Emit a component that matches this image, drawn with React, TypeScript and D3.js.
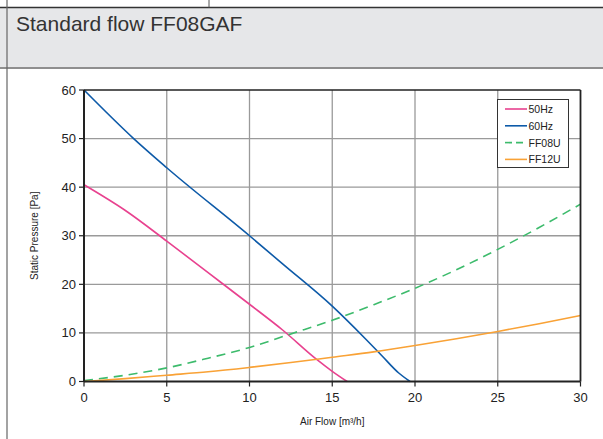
import React from "react";
import * as d3 from "d3";

const xTicks = [0, 5, 10, 15, 20, 25, 30];
const yTicks = [0, 10, 20, 30, 40, 50, 60];

const hz50X = [0, 2.5, 5, 7.5, 10, 12, 14, 15, 15.9];
const hz50Y = [40.5, 35.2, 28.9, 22.4, 15.9, 10.6, 4.7, 2.1, 0];

const hz60X = [0, 3, 5, 10, 12, 15, 17, 18, 19, 19.7];
const hz60Y = [60, 50, 44, 30, 24.2, 15.5, 8.8, 5.3, 1.8, 0];

const ff08uX = [0, 2.5, 5, 7.5, 10, 12.5, 15, 17.5, 20, 22.5, 25, 27.5, 30];
const ff08uY = [0.2, 1.3, 2.8, 4.8, 7.0, 9.8, 12.6, 15.8, 19.2, 23.0, 27.2, 31.7, 36.5];

const ff12uX = [0, 2.5, 5, 7.5, 10, 12.5, 15, 17.5, 20, 22.5, 25, 27.5, 30];
const ff12uY = [0, 0.6, 1.3, 2.0, 2.9, 3.9, 5.0, 6.1, 7.4, 8.8, 10.3, 11.9, 13.6];

const seriesNames = ["50Hz", "60Hz", "FF08U", "FF12U"];
const seriesColors = ["#e8428f", "#0d5aa8", "#3dbb6c", "#f9a236"];

export default function App() {
  const W = 603;
  const H = 439;
  const x = d3.scaleLinear().domain([0, 30]).range([84, 580.5]);
  const y = d3.scaleLinear().domain([0, 60]).range([381.5, 90]);
  const line = d3
    .line<[number, number]>()
    .x((d) => x(d[0]))
    .y((d) => y(d[1]))
    .curve(d3.curveMonotoneX);

  const series: [number[], number[]][] = [
    [hz50X, hz50Y],
    [hz60X, hz60Y],
    [ff08uX, ff08uY],
    [ff12uX, ff12uY],
  ];
  const dashes = [undefined, undefined, "9,6", undefined];

  const font = "'Liberation Sans', Arial, Helvetica, sans-serif";

  return (
    <svg
      width={W}
      height={H}
      style={{ position: "absolute", left: 0, top: 0 }}
      fontFamily={font}
    >
      <rect x={0} y={0} width={W} height={H} fill="#ffffff" />
      {/* header band */}
      <rect x={0} y={8} width={W} height={60} fill="#e6e7e9" />
      <line x1={0} x2={W} y1={7.5} y2={7.5} stroke="#333" strokeWidth={1.3} />
      <line x1={0} x2={W} y1={68} y2={68} stroke="#8f8f8f" strokeWidth={2} />
      <line x1={209} x2={209} y1={0} y2={7.5} stroke="#555" strokeWidth={1} />
      <line x1={7} x2={7} y1={0} y2={H} stroke="#666" strokeWidth={1.2} />
      <text x={16} y={31} fontSize={21} fill="#333">
        Standard flow FF08GAF
      </text>

      {/* grid */}
      {xTicks.slice(1, -1).map((t) => (
        <line key={"gx" + t} x1={x(t)} x2={x(t)} y1={y(60)} y2={y(0)} stroke="#9a9a9a" strokeWidth={1.3} />
      ))}
      {yTicks.slice(1, -1).map((t) => (
        <line key={"gy" + t} x1={x(0)} x2={x(30)} y1={y(t)} y2={y(t)} stroke="#9a9a9a" strokeWidth={1.3} />
      ))}

      {/* series */}
      {series.map(([xs, ys], i) => (
        <path
          key={seriesNames[i]}
          d={line(xs.map((v, j) => [v, ys[j]] as [number, number])) || ""}
          fill="none"
          stroke={seriesColors[i]}
          strokeWidth={1.6}
          strokeDasharray={dashes[i]}
        />
      ))}

      {/* frame */}
      <line x1={x(0)} x2={x(30)} y1={y(60)} y2={y(60)} stroke="#222" strokeWidth={1.5} />
      <line x1={x(30)} x2={x(30)} y1={y(60)} y2={y(0)} stroke="#222" strokeWidth={1.8} />
      <line x1={x(0)} x2={x(0)} y1={y(60)} y2={y(0)} stroke="#222" strokeWidth={2} />
      <line x1={x(0)} x2={x(30)} y1={y(0)} y2={y(0)} stroke="#222" strokeWidth={2} />

      {/* y axis ticks */}
      {yTicks.map((t) => (
        <g key={"yt" + t}>
          <line x1={x(0) - 5} x2={x(0)} y1={y(t)} y2={y(t)} stroke="#222" strokeWidth={1.2} />
          <text x={x(0) - 8} y={y(t) + 4.5} fontSize={13} textAnchor="end" fill="#222">
            {t}
          </text>
        </g>
      ))}
      {/* x axis ticks */}
      {xTicks.map((t) => (
        <g key={"xt" + t}>
          <line x1={x(t)} x2={x(t)} y1={y(0)} y2={y(0) + 5} stroke="#222" strokeWidth={1.2} />
          <text x={x(t)} y={y(0) + 20} fontSize={13} textAnchor="middle" fill="#222">
            {t}
          </text>
        </g>
      ))}

      {/* axis titles */}
      <text
        transform={`translate(38, ${(y(0) + y(60)) / 2}) rotate(-90)`}
        fontSize={10}
        textAnchor="middle"
        fill="#222"
      >
        Static Pressure [Pa]
      </text>
      <text x={(x(0) + x(30)) / 2} y={425} fontSize={10} textAnchor="middle" fill="#222">
        Air Flow [m³/h]
      </text>

      {/* legend */}
      <rect x={497.5} y={99.5} width={71} height={68} fill="#fff" stroke="#333" strokeWidth={1} />
      {seriesNames.map((n, i) => {
        const ly = 109 + i * 16.8;
        return (
          <g key={"lg" + n}>
            <line
              x1={505}
              x2={527}
              y1={ly}
              y2={ly}
              stroke={seriesColors[i]}
              strokeWidth={1.6}
              strokeDasharray={i === 2 ? "7,4" : undefined}
            />
            <text x={528.5} y={ly + 4} fontSize={10.5} fill="#222">
              {n}
            </text>
          </g>
        );
      })}
    </svg>
  );
}
